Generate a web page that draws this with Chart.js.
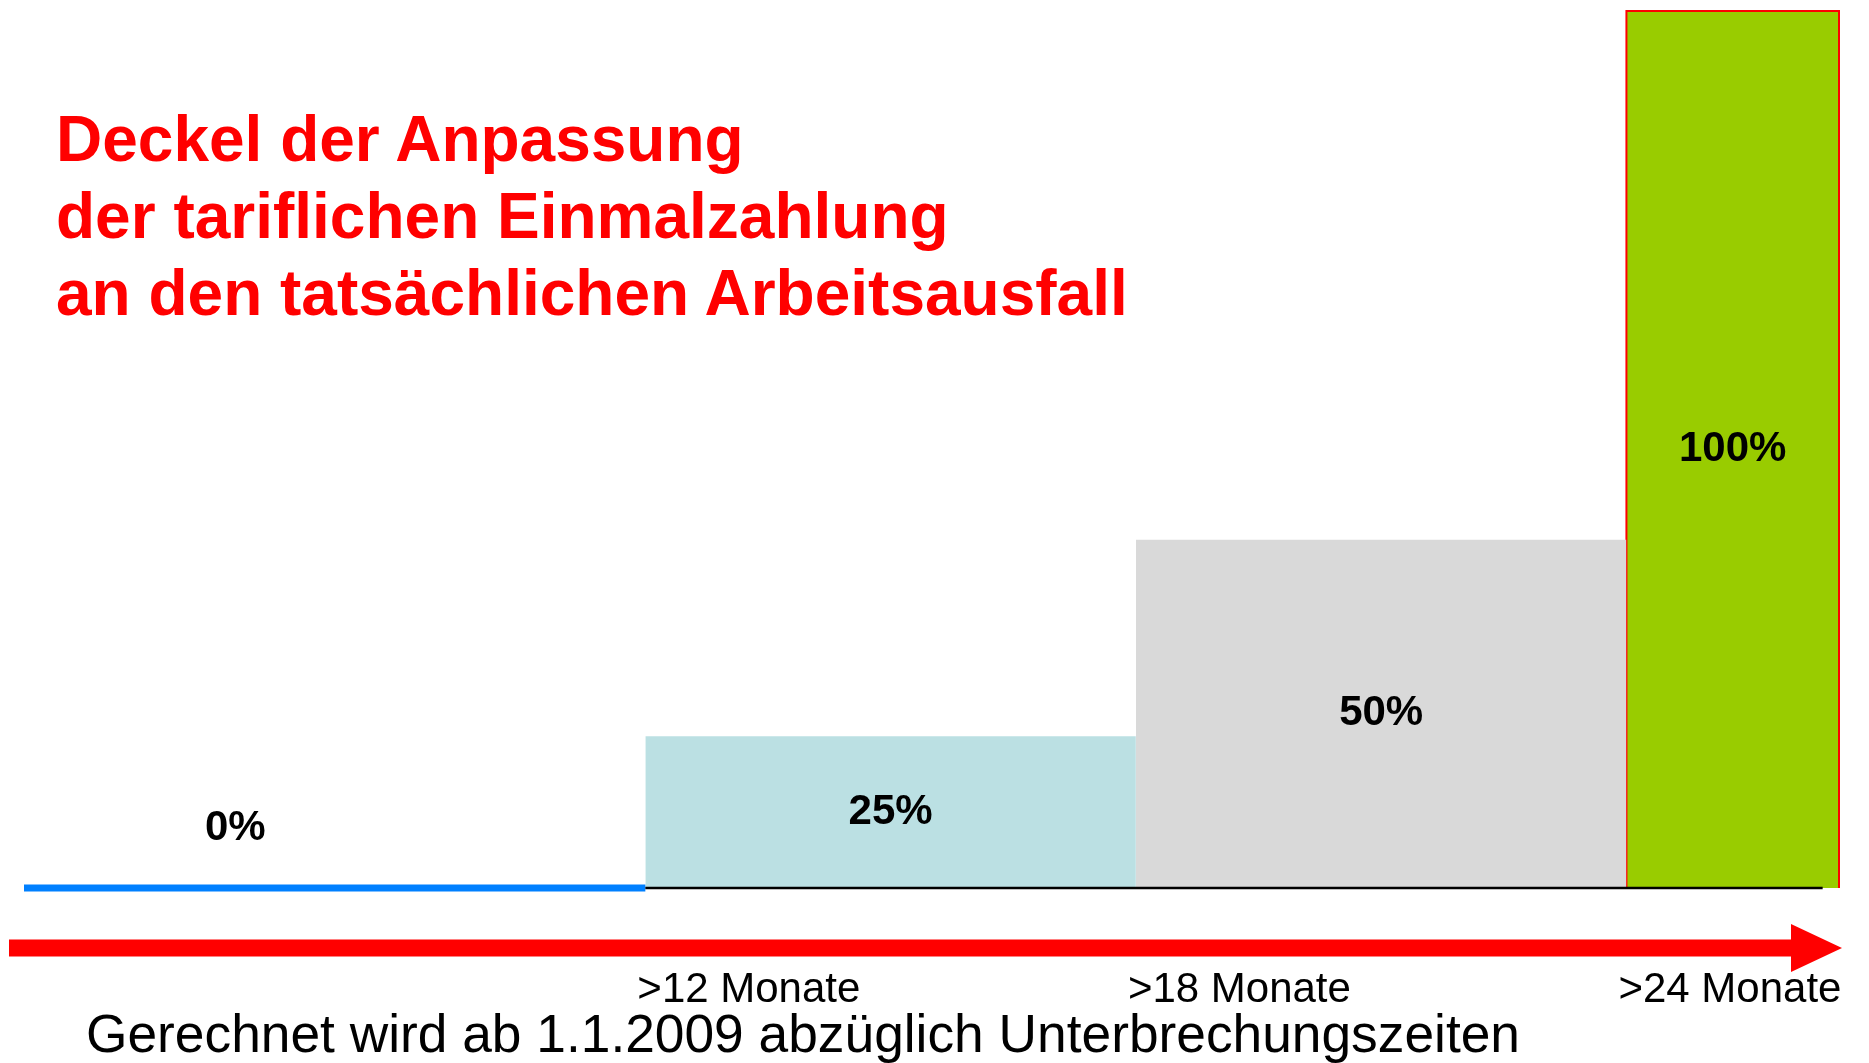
<!DOCTYPE html>
<html>
<head>
<meta charset="utf-8">
<script src="https://cdn.jsdelivr.net/npm/chart.js@4.4.1/dist/chart.umd.min.js"></script>
<style>
  html, body { margin: 0; padding: 0; background: #ffffff; }
  #wrap { position: relative; width: 1869px; height: 1063px; overflow: hidden; }
  canvas { position: absolute; left: 0; top: 0; }
  .title { position: absolute; left: 56px; top: 101px; font-family: "Liberation Sans", Arial, sans-serif;
           font-weight: bold; font-size: 64px; line-height: 77px; color: #ff0000; white-space: nowrap; }
  .foot { position: absolute; left: 86px; top: 1007px; font-family: "Liberation Sans", Arial, sans-serif;
          font-size: 53.3px; line-height: 53px; color: #000000; white-space: nowrap; }
</style>
</head>
<body>
<div id="wrap">
  <canvas id="c" width="1869" height="1063"></canvas>
  <div class="title">Deckel der Anpassung<br>der tariflichen Einmalzahlung<br>an den tatsächlichen Arbeitsausfall</div>
  <div class="foot">Gerechnet wird ab 1.1.2009 abzüglich Unterbrechungszeiten</div>
</div>
<script>
// ---- data ----
const categories   = ['bis 12 Monate', '>12 Monate', '>18 Monate', '>24 Monate'];
const segmentStart = [4.4, 12, 18, 24];      // months
const segmentEnd   = [12, 18, 24, 26.6];     // months
const barHeights   = [0, 17.3, 39.7, 100];   // drawn height (relative)
const valueLabels  = ['0%', '25%', '50%', '100%'];
const tickValues   = [12, 18, 24];
const tickLabels   = ['>12 Monate', '>18 Monate', '>24 Monate'];

// ---- styles ----
const fillColors   = ['#0080ff', '#bbe0e3', '#d9d9d9', '#99cc00'];

function rectPoints(i) {
  return [
    { x: segmentStart[i], y: 0 },
    { x: segmentStart[i], y: barHeights[i] },
    { x: segmentEnd[i],   y: barHeights[i] },
    { x: segmentEnd[i],   y: 0 }
  ];
}

const datasets = [];
// black baseline (on top)
datasets.push({
  label: 'baseline',
  data: [{ x: segmentStart[1], y: 0 }, { x: segmentEnd[3] - 0.2, y: 0 }],
  borderColor: '#000000', borderWidth: 2.5, pointRadius: 0, fill: false, order: 0, clip: false
});
// 0% segment as blue line
datasets.push({
  label: categories[0],
  data: [{ x: segmentStart[0], y: 0 }, { x: segmentEnd[0], y: 0 }],
  borderColor: fillColors[0], borderWidth: 7, borderCapStyle: 'butt', pointRadius: 0, fill: false, order: 1, clip: false
});
// bars
for (let i = 1; i < categories.length; i++) {
  const last = i === categories.length - 1;
  datasets.push({
    label: categories[i],
    data: rectPoints(i),
    borderColor: last ? '#ff0000' : 'rgba(0,0,0,0)',
    borderWidth: last ? 2 : 0,
    backgroundColor: fillColors[i],
    fill: 'origin',
    pointRadius: 0,
    tension: 0,
    order: 2 + i,
    clip: false
  });
}

const overlayPlugin = {
  id: 'overlay',
  afterDatasetsDraw(chart) {
    const ctx = chart.ctx;
    const xs = chart.scales.x, ys = chart.scales.y;
    ctx.save();
    ctx.fillStyle = '#000000';
    ctx.font = 'bold 42px "Liberation Sans", Arial, sans-serif';
    ctx.textAlign = 'center';
    ctx.textBaseline = 'middle';
    for (let i = 0; i < valueLabels.length; i++) {
      let px, py;
      if (barHeights[i] === 0) {
        px = xs.getPixelForValue(segmentStart[i] + (segmentEnd[i] - segmentStart[i]) * 0.34);
        py = ys.getPixelForValue(0) - 60;
      } else {
        px = xs.getPixelForValue((segmentStart[i] + segmentEnd[i]) / 2);
        py = ys.getPixelForValue(barHeights[i] / 2);
      }
      ctx.fillText(valueLabels[i], px, py);
    }
    ctx.restore();
  },
  afterDraw(chart) {
    // red time arrow
    const ctx = chart.ctx;
    const yb = chart.scales.y.getPixelForValue(0);
    const yc = yb + 60;
    const x0 = 9, xHead = 1791, xTip = 1842;
    ctx.save();
    ctx.fillStyle = '#ff0000';
    ctx.fillRect(x0, yc - 8.5, xHead - x0, 17);
    ctx.beginPath();
    ctx.moveTo(xHead, yc - 24);
    ctx.lineTo(xTip, yc);
    ctx.lineTo(xHead, yc + 24);
    ctx.closePath();
    ctx.fill();
    ctx.restore();
  }
};

new Chart(document.getElementById('c'), {
  type: 'line',
  data: { datasets },
  options: {
    responsive: false,
    animation: false,
    devicePixelRatio: 1,
    layout: { padding: { left: 24, right: 30, top: 11, bottom: 0 } },
    plugins: { legend: { display: false }, tooltip: { enabled: false }, title: { display: false } },
    elements: { line: { tension: 0 } },
    scales: {
      x: {
        type: 'linear',
        min: 4.4, max: 26.6,
        grid: { display: false, drawTicks: false },
        border: { display: false },
        afterBuildTicks(axis) { axis.ticks = tickValues.map(v => ({ value: v })); },
        afterFit(axis) { axis.height = 175; axis.paddingLeft = 0; axis.paddingRight = 0; },
        ticks: {
          align: 'start',
          padding: 77,
          labelOffset: -8,
          color: '#000000',
          font: { family: '"Liberation Sans", Arial, sans-serif', size: 42 },
          callback(v) { const k = tickValues.indexOf(v); return k >= 0 ? tickLabels[k] : ''; }
        }
      },
      y: {
        type: 'linear',
        min: 0, max: 100,
        display: false
      }
    }
  },
  plugins: [overlayPlugin]
});
</script>
</body>
</html>
